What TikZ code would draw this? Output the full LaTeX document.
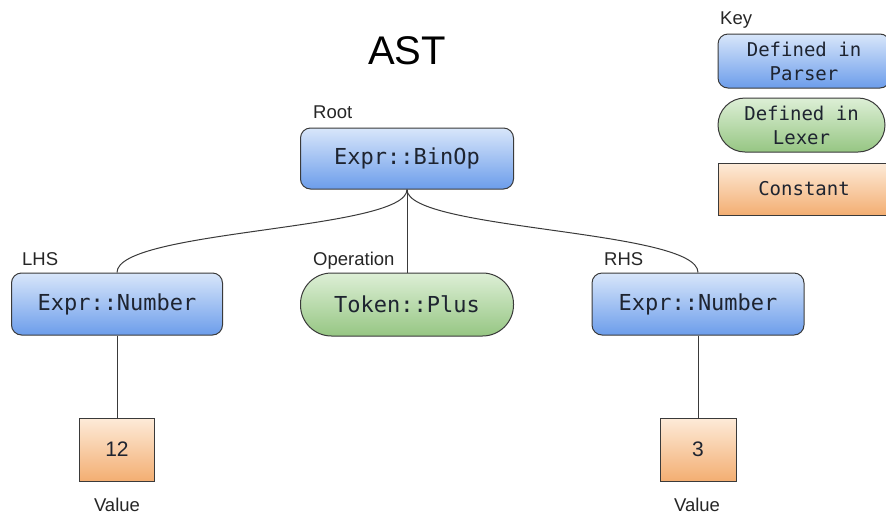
\documentclass[tikz,border=0pt]{standalone}
\usepackage{fontspec}
\setmainfont{Liberation Sans}
\setmonofont{DejaVu Sans Mono}
\usetikzlibrary{calc}

\definecolor{edgegray}{HTML}{3A3A3A}
\definecolor{boxtext}{HTML}{1E2430}
\definecolor{blueTop}{HTML}{D8E6FA}
\definecolor{blueBot}{HTML}{6C9DEB}
\definecolor{greenTop}{HTML}{DDEFD6}
\definecolor{greenBot}{HTML}{96C683}
\definecolor{orangeTop}{HTML}{FDEBD9}
\definecolor{orangeBot}{HTML}{F3AE72}

\tikzset{
  parserbox/.style={draw=edgegray, line width=1pt, rounded corners=10pt,
    top color=blueTop, bottom color=blueBot, text=boxtext,
    font=\ttfamily\fontsize{22}{24}\selectfont, inner sep=0pt},
  lexerbox/.style={draw=edgegray, line width=1pt, rounded corners=31pt,
    top color=greenTop, bottom color=greenBot, text=boxtext,
    font=\ttfamily\fontsize{22}{24}\selectfont, inner sep=0pt},
  constbox/.style={draw=edgegray, line width=1pt,
    top color=orangeTop, bottom color=orangeBot, text=boxtext,
    font=\fontsize{21}{24}\selectfont, inner sep=0pt},
  keytext/.style={font=\ttfamily\fontsize{19}{24}\selectfont, align=center},
  tag/.style={font=\fontsize{18.5}{20}\selectfont, text=black!85, inner sep=0pt},
  link/.style={draw=edgegray, line width=1pt},
}

\begin{document}
\begin{tikzpicture}[x=1pt, y=-1pt]
  \useasboundingbox (0,0) rectangle (886,515);
  \clip (0,0) rectangle (886,515);
  \fill[white] (0,0) rectangle (886,515);

  % title
  \node[font=\fontsize{40}{44}\selectfont, inner sep=0pt, anchor=base] (title) at (407,64) {AST};

  % tree nodes
  \node[parserbox, minimum width=213pt, minimum height=61pt] (root) at (407,158.5) {Expr::BinOp};
  \node[parserbox, minimum width=211pt, minimum height=62pt] (lhs) at (117,304) {Expr::Number};
  \node[lexerbox, minimum width=213pt, minimum height=63pt] (op) at (407,304.5) {Token::Plus};
  \node[parserbox, minimum width=212pt, minimum height=62pt] (rhs) at (698,304) {Expr::Number};
  \node[constbox, minimum width=75pt, minimum height=63pt] (lval) at (117,449.5) {12};
  \node[constbox, minimum width=76pt, minimum height=63pt] (rval) at (698,449.5) {3};

  % role labels
  \node[tag, anchor=base west] (roottag) at (313,118) {Root};
  \node[tag, anchor=base west] (lhstag) at (22,265) {LHS};
  \node[tag, anchor=base west] (optag) at (313,265) {Operation};
  \node[tag, anchor=base west] (rhstag) at (604,265) {RHS};
  \node[tag, anchor=base] (lvaltag) at (117,511) {Value};
  \node[tag, anchor=base] (rvaltag) at (697,511) {Value};

  % connectors
  \draw[link] (root.south) .. controls ($(root.south)+(0,41)$) and ($(lhs.north)+(0,-43)$) .. (lhs.north);
  \draw[link] (root.south) .. controls ($(root.south)+(0,41)$) and ($(rhs.north)+(0,-43)$) .. (rhs.north);
  \draw[link] (root.south) -- (op.north);
  \draw[link] (lhs.south) -- (lval.north);
  \draw[link] (rhs.south) -- (rval.north);

  % key
  \node[tag, anchor=base west] (keytag) at (720,24) {Key};
  \node[parserbox, keytext, minimum width=172pt, minimum height=54pt] (keyp) at (804,61) {Defined in\\Parser};
  \node[lexerbox, keytext, rounded corners=27pt, minimum width=167pt, minimum height=54pt] (keyl) at (801.5,125) {Defined in\\Lexer};
  \node[constbox, keytext, minimum width=172pt, minimum height=52pt] (keyc) at (804,189) {Constant};
\end{tikzpicture}
\end{document}
